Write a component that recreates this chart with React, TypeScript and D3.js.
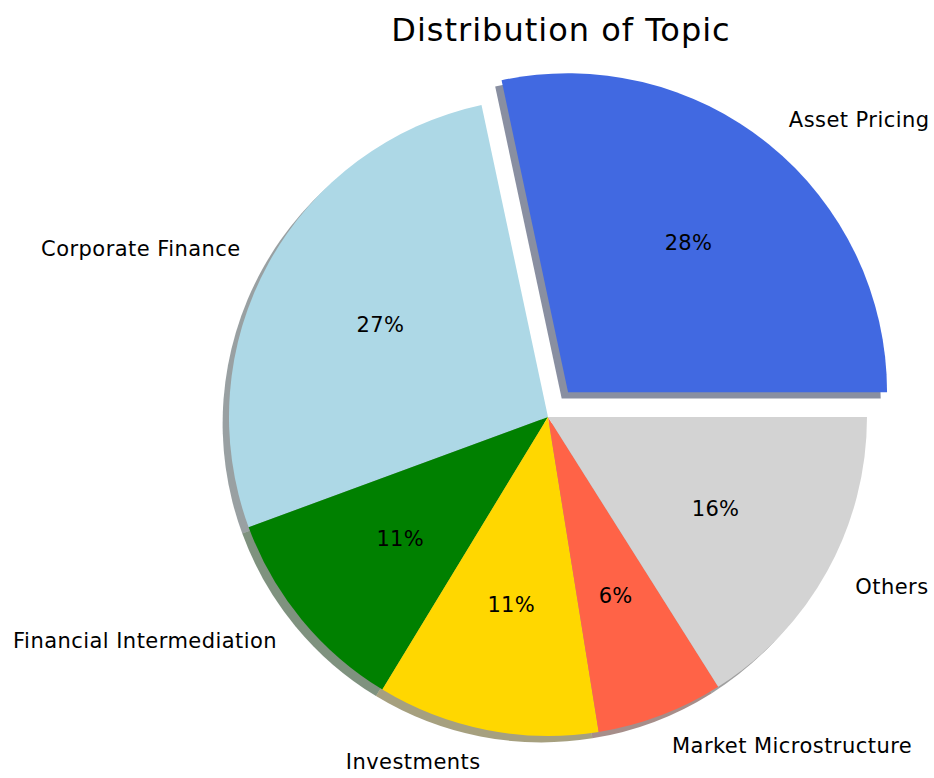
import React from "react";
import * as d3 from "d3";

const categories = [
  "Asset Pricing",
  "Corporate Finance",
  "Financial Intermediation",
  "Investments",
  "Market Microstructure",
  "Others",
];
const counts = [53, 51, 20, 21, 12, 30];
const colors = ["#4169E1", "#ADD8E6", "#008000", "#FFD700", "#FF6347", "#D3D3D3"];
const explode = [0.1, 0, 0, 0, 0, 0];
const title = "Distribution of Topic";

const W = 934;
const H = 778;
const CX = 548;
const CY = 417;
const R = 319;
const SHADOW = 0.02 * R;
const FONT = "'DejaVu Sans', sans-serif";

export default function App() {
  const pie = d3
    .pie<number>()
    .sort(null)
    .startAngle(Math.PI / 2)
    .endAngle(Math.PI / 2 - 2 * Math.PI);
  const arcs = pie(counts);
  const arc = d3.arc<d3.PieArcDatum<number>>().innerRadius(0).outerRadius(R);
  const total = d3.sum(counts);

  const items = arcs.map((a, i) => {
    const mid = (a.startAngle + a.endAngle) / 2; // d3 angle: 0 at top, clockwise
    const dx = Math.sin(mid);
    const dy = -Math.cos(mid);
    const ox = explode[i] * R * dx;
    const oy = explode[i] * R * dy;
    const cx = CX + ox;
    const cy = CY + oy;
    const lx = cx + 1.1 * R * dx;
    const ly = cy + 1.1 * R * dy;
    const px = cx + 0.6 * R * dx;
    const py = cy + 0.6 * R * dy;
    const c = d3.rgb(colors[i]);
    const shadow = d3.rgb(c.r * 0.3, c.g * 0.3, c.b * 0.3).toString();
    return { a, i, cx, cy, lx, ly, px, py, dx, shadow };
  });

  return (
    <svg
      width={W}
      height={H}
      style={{ position: "absolute", left: 0, top: 0, background: "#fff" }}
      fontFamily={FONT}
    >
      <text x={561} y={41} textAnchor="middle" fontSize={32} letterSpacing={1} fill="#000">
        {title}
      </text>
      {items.map((d) => (
        <path
          key={"s" + d.i}
          d={arc(d.a) || ""}
          transform={`translate(${d.cx - SHADOW},${d.cy + SHADOW})`}
          fill={d.shadow}
          fillOpacity={0.5}
        />
      ))}
      {items.map((d) => (
        <path
          key={"w" + d.i}
          d={arc(d.a) || ""}
          transform={`translate(${d.cx},${d.cy})`}
          fill={colors[d.i]}
        />
      ))}
      {items.map((d) => (
        <text
          key={"l" + d.i}
          x={d.lx}
          y={d.ly + 1}
          textAnchor={d.dx > 0 ? "start" : "end"}
          dominantBaseline="central"
          fontSize={21}
          letterSpacing={0.45}
          fill="#000"
        >
          {categories[d.i]}
        </text>
      ))}
      {items.map((d) => (
        <text
          key={"p" + d.i}
          x={d.px}
          y={d.py}
          textAnchor="middle"
          dominantBaseline="central"
          fontSize={21}
          letterSpacing={0.3}
          fill="#000"
        >
          {`${Math.round((counts[d.i] / total) * 100)}%`}
        </text>
      ))}
    </svg>
  );
}
